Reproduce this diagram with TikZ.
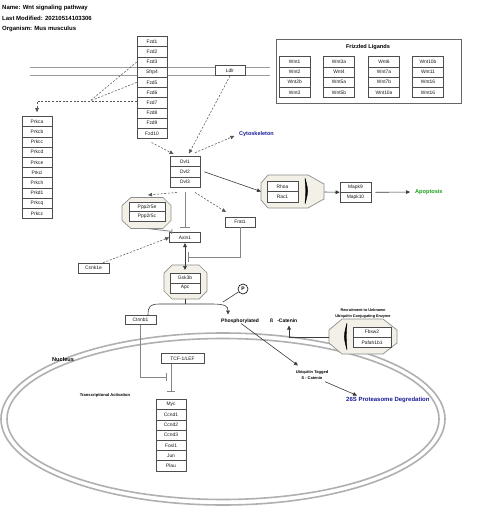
\documentclass[tikz,border=0pt]{standalone}
\usepackage{fontspec}
\setmainfont{Liberation Sans}
\usetikzlibrary{arrows.meta}
\definecolor{boxc}{HTML}{4D4D4D}
\definecolor{octf}{HTML}{F3F1E7}
\definecolor{octd}{HTML}{8C8C8C}
\definecolor{linec}{HTML}{3A3A3A}
\definecolor{dashc}{HTML}{555555}
\definecolor{memc}{HTML}{9A9A9A}
\definecolor{nucc}{HTML}{B0B0B0}
\definecolor{inhc}{HTML}{858585}
\definecolor{ligc}{HTML}{666666}
\definecolor{bluet}{HTML}{1A1A9A}
\definecolor{greent}{HTML}{1AA01A}
\newcommand\gfnt{\fontsize{4.9}{5.5}\selectfont}
\newcommand\bfs[1]{\fontsize{#1}{#1}\selectfont\bfseries}
\newcommand\octag[8]{\filldraw[oct] (#1+#5,#2) -- (#3-#7,#2) -- (#3,#2+#8) -- (#3,#4-#8) -- (#3-#7,#4) -- (#1+#5,#4) -- (#1,#4-#6) -- (#1,#2+#6) -- cycle;}
\begin{document}
\begin{tikzpicture}[x=1pt,y=-1pt,
  gene/.style={draw=boxc, line width=0.6pt, fill=white, minimum width=30pt, minimum height=10.2pt, inner sep=0pt, font=\gfnt, text=black!90},
  lbl/.style={inner sep=0pt, anchor=west, font={\bfs{5}}},
  oct/.style={fill=octf, draw=octd, line width=0.7pt},
  ln/.style={draw=linec, line width=0.6pt},
  arr/.style={ln, -{Triangle[length=4pt,width=3.6pt]}},
  dbl/.style={ln, {Triangle[length=4pt,width=3.6pt]}-{Triangle[length=4pt,width=3.6pt]}},
  dln/.style={draw=dashc, line width=0.55pt, dash pattern=on 2pt off 1.6pt},
  darr/.style={dln, -{Triangle[length=4pt,width=3.6pt]}},
  inh/.style={draw=inhc, line width=0.8pt, -{Bar[width=10pt,line width=0.8pt]}},
  mem/.style={draw=memc, line width=0.8pt},
  nuc/.style={draw=nucc, line width=1.6pt},
  lens/.style={fill=black, draw=black, line width=0.4pt}]
\useasboundingbox (0,0) rectangle (480,519);
\fill[white] (0,0) rectangle (480,519);

% title
\node[lbl, font={\bfs{6}}] (t1) at (2,7.5) {Name: Wnt signaling pathway};
\node[lbl, font={\bfs{6}}] (t2) at (2,18) {Last Modified: 20210514103306};
\node[lbl, font={\bfs{6}}] (t3) at (2,28.5) {Organism: Mus musculus};

% membrane
\draw[mem] (30,67) -- (270,67);
\draw[mem] (30,75.5) -- (270,75.5);

% nucleus
\draw[nuc] (223,419) ellipse [x radius=222pt, y radius=86pt];
\draw[nuc] (223,419) ellipse [x radius=216pt, y radius=80.5pt];
\node[lbl, font={\bfs{5.6}}] (nucl) at (52,359) {Nucleus};
\node[inner sep=0pt, font={\bfs{4.1}}] (tact) at (105,395) {Transcriptional Activation};

% Fzd stack
\foreach \t [count=\i] in {Fzd1,Fzd2,Fzd3,Sfrp4,Fzd5,Fzd6,Fzd7,Fzd8,Fzd9,Fzd10}
  \node[gene] (fzd\i) at (152,{31.4+10.2*\i}) {\t};
\node[gene] (ldlr) at (230,70.5) {Ldlr};

% Prkc stack
\foreach \t [count=\i] in {Prkca,Prkcb,Prkcc,Prkcd,Prkce,Prkci,Prkch,Prkd1,Prkcq,Prkcz}
  \node[gene] (prkc\i) at (37,{111.4+10.2*\i}) {\t};

% ligands
\node[draw=ligc, fill=white, line width=0.7pt, minimum width=185pt, minimum height=64pt, inner sep=0pt] (ligbox) at (368.5,71) {};
\node[inner sep=0pt, font={\bfs{5.6}}] (ligt) at (368,47) {Frizzled Ligands};
\foreach \t [count=\i] in {Wnt1,Wnt2,Wnt2b,Wnt3}
  \node[gene, minimum width=30.5pt] (wa\i) at (294.7,{51.6+10.2*\i}) {\t};
\foreach \t [count=\i] in {Wnt3a,Wnt4,Wnt5a,Wnt5b}
  \node[gene, minimum width=30.5pt] (wb\i) at (339,{51.6+10.2*\i}) {\t};
\foreach \t [count=\i] in {Wnt6,Wnt7a,Wnt7b,Wnt10a}
  \node[gene, minimum width=30.5pt] (wc\i) at (384,{51.6+10.2*\i}) {\t};
\foreach \t [count=\i] in {Wnt10b,Wnt11,Wnt16,Wnt16}
  \node[gene, minimum width=30.5pt] (wd\i) at (428,{51.6+10.2*\i}) {\t};

% Dvl
\foreach \t [count=\i] in {Dvl1,Dvl2,Dvl3}
  \node[gene] (dvl\i) at (185,{151.4+10.2*\i}) {\t};
\node[lbl, text=bluet, font={\bfs{5.5}}] (cyto) at (239,134) {Cytoskeleton};

% octagons
\octag{261}{175}{324}{208}{7}{8}{16}{9}
\octag{122}{197.5}{171}{228.5}{9}{8}{8}{8}
\octag{164}{265}{207}{299}{8}{8}{8}{8}
\octag{329}{319}{397}{354}{13}{11}{14}{11}
\coordinate (rhoW) at (261,191.5);
\coordinate (rhoE) at (324.5,192);
\coordinate (ppT) at (148,195);
\coordinate (ppB) at (147,228.5);
\coordinate (gskB) at (185,299);
\coordinate (fbW) at (329,337);

\node[gene, minimum width=31pt, minimum height=10.3pt] (rho1) at (282.5,186.5) {Rhoa};
\node[gene, minimum width=31pt, minimum height=10.3pt] (rho2) at (282.5,196.8) {Rac1};
\filldraw[lens] (305,178) .. controls (308.5,191) .. (305,204) .. controls (306,191) .. cycle;
\node[gene, minimum width=31pt, minimum height=10pt] (mapk1) at (355.5,187) {Mapk9};
\node[gene, minimum width=31pt, minimum height=10pt] (mapk2) at (355.5,197) {Mapk10};
\node[lbl, text=greent, font={\bfs{5.6}}] (apop) at (415,192) {Apoptosis};

\node[gene, minimum width=36pt, minimum height=9.4pt] (pp1) at (147,206.9) {Ppp2r5e};
\node[gene, minimum width=36pt, minimum height=9.4pt] (pp2) at (147,216.3) {Ppp2r5c};
\node[gene, minimum height=9.5pt] (frat) at (240,222.3) {Frat1};
\node[gene, minimum width=31pt, minimum height=9.5pt] (axin) at (185,237.5) {Axin1};
\node[gene, minimum width=31pt, minimum height=10pt] (csnk) at (93.5,268) {Csnk1e};
\node[gene, minimum height=10pt] (gsk1) at (185,277.8) {Gsk3b};
\node[gene, minimum height=10pt] (gsk2) at (185,287.8) {Apc};

\node[gene, minimum width=31pt, minimum height=9pt] (ctnnb) at (140.5,320) {Ctnnb1};
\node[circle, draw=black, line width=0.6pt, minimum size=10pt, inner sep=0pt, font={\bfs{5}}] (pc) at (243,289) {P};
\node[lbl] (phos) at (221,321) {Phosphorylated};
\node[lbl] (bcat) at (270,321) {ß\hspace{4pt}-Catenin};
\node[inner sep=0pt, align=center, font={\fontsize{4}{6}\selectfont\bfseries}] (ubq) at (312,375) {Ubiquitin Tagged\\ß - Catenin};
\node[lbl, text=bluet, font={\bfs{6}}] (prot) at (346,399.5) {26S Proteasome Degredation};
\node[inner sep=0pt, align=center, font={\fontsize{3.8}{6}\selectfont\bfseries}] (recr) at (363,314) {Recruitment to Unknown\\Ubiquitin Conjugating Enzyme};
\node[gene, minimum width=38pt, minimum height=10.3pt] (fb1) at (372,332.2) {Fbxw2};
\node[gene, minimum width=38pt, minimum height=10.3pt] (fb2) at (372,342.5) {Pafah1b1};
\filldraw[lens] (347,323) .. controls (343.5,336.5) .. (347,350) .. controls (346,336.5) .. cycle;

\node[gene, minimum width=43pt, minimum height=9.5pt] (tcf) at (182.5,358.5) {TCF-1/LEF};
\foreach \t [count=\i] in {Myc,Ccnd1,Ccnd2,Ccnd3,Fosl1,Jun,Plau}
  \node[gene] (myc\i) at (171,{394.4+10.2*\i}) {\t};

% connectors
\coordinate (J) at (90,101);
\coordinate (K) at (37,101);
\draw[dln] (fzd3.west) -- (J);
\draw[dln] (fzd5.west) -- (J);
\draw[darr, shorten >=4pt] (fzd7.west |- J) -- (K) -- (prkc1.north);

\coordinate (f10s) at (151.5,142.5);
\coordinate (dvlL) at (173.5,154);
\draw[darr] (f10s) -- (dvlL);
\draw[darr, shorten >=3pt] (ldlr.south) -- ([xshift=2.5pt]dvl1.north);
\draw[darr, shorten >=5pt] ([xshift=10pt,yshift=3.5pt]dvl1.north) -- (cyto.west);

\draw[arr] ([xshift=4pt]dvl2.east) -- (rhoW);
\draw[arr] (rhoE) -- (mapk1.south west);
\draw[arr, shorten >=5pt] ([xshift=4pt]mapk1.south east) -- (apop.west);

\coordinate (frT) at (226,212);
\draw[darr] ([xshift=-8pt,yshift=-5pt]dvl3.south) -- (ppT);
\draw[darr] ([xshift=10pt,yshift=-5pt]dvl3.south) -- (frT);
\draw[inh] ([yshift=-5pt]dvl3.south) -- ([yshift=5pt]axin.north);
\draw[inh, -{Bar[width=5pt,line width=0.8pt]}] (ppB) -- ([xshift=3pt,yshift=1pt]axin.north west);
\coordinate (axb) at (188,257);
\draw[inh] (frat.south) |- (axb);
\draw[darr] ([xshift=9.5pt]csnk.north) -- (axin.west);
\draw[dbl, shorten >=2.5pt, shorten <=0.5pt] (axin.south) -- (gsk1.north);

\coordinate (hc) at (185,304);
\coordinate (hl) at (160,304);
\coordinate (hr) at (212,304);
\coordinate (ptip) at (228,314.5);
\draw[ln] (gskB) -- (hc);
\draw[arr] ([xshift=7.5pt]ctnnb.north) .. controls +(0,-9) and +(-10,0) .. (hl) -- (hr) .. controls +(14,0) and +(0,-8) .. (ptip);
\coordinate (pl) at (223,302);
\draw[ln] (pl) -- (pc);

\coordinate (ubT) at (298,365.5);
\draw[arr] ([xshift=1pt]phos.south) -- (ubT);
\coordinate (prT) at (357,395.5);
\draw[arr] ([xshift=13pt,yshift=-2pt]ubq.south) -- (prT);
\coordinate (bcT) at (289,325.5);
\draw[arr] (fbW) -| (bcT);

\coordinate (tcfT) at (167,377);
\draw[inh, -{Bar[width=8pt,line width=0.8pt]}] (ctnnb.south) |- (tcfT);
\draw[inh, -{Bar[width=8pt,line width=0.8pt]}] (tcf.south -| myc1) -- ([yshift=7.5pt]myc1.north);
\end{tikzpicture}
\end{document}
